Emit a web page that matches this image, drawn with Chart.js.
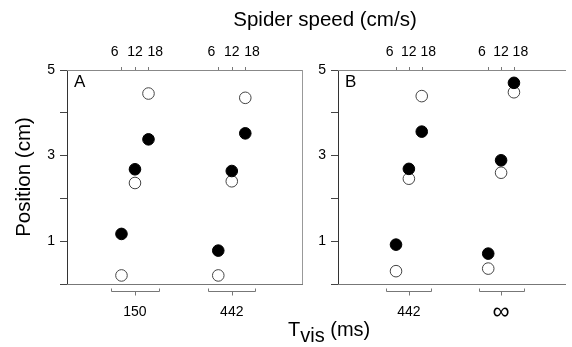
<!DOCTYPE html>
<html><head><meta charset="utf-8">
<script src="https://cdn.jsdelivr.net/npm/chart.js@4.4.0/dist/chart.umd.min.js"></script>
<style>
html,body{margin:0;padding:0;background:#fff;}
#wrap{position:relative;width:572px;height:347px;overflow:hidden;font-family:"Liberation Sans",Arial,sans-serif;color:#000;}
canvas{position:absolute;top:0;}
#cA{left:0;width:320px;height:347px;}
#cB{left:290px;width:282px;height:347px;}
.t{position:absolute;white-space:nowrap;}
#ttop{left:175px;width:300px;top:9px;text-align:center;font-size:20.5px;line-height:20.5px;}
#tbot{left:288px;top:319px;font-size:20px;line-height:20px;}
#tbot span{position:relative;top:6px;}
</style></head><body>
<div id="wrap">
<canvas id="cA" width="320" height="347"></canvas>
<canvas id="cB" width="282" height="347"></canvas>
<div class="t" id="ttop">Spider speed (cm/s)</div>
<div class="t" id="tbot">T<span>vis</span> (ms)</div>
</div>
<script>
// ---- data ----
const speeds = [6, 12, 18];            // cm/s, top axis
const tvisA = ["150", "442"];          // bottom axis groups, panel A
const tvisB = ["442", "∞"];            // bottom axis groups, panel B
const yTickLabels = [1, 3, 5];
const filledA150 = [1.17, 2.68, 3.38];
const openA150   = [0.20, 2.36, 4.45];
const filledA442 = [0.78, 2.64, 3.52];
const openA442   = [0.20, 2.40, 4.35];
const filledB442 = [0.92, 2.69, 3.56];
const openB442   = [0.30, 2.46, 4.39];
const filledBInf = [0.71, 2.89, 4.70];
const openBInf   = [0.36, 2.60, 4.48];

// ---- layout ----
const G = 43;        // spacing between groups, in speed units
const SPREAD = 1.5;  // top tick labels are spread wider than their tick marks
const FONT = '"Liberation Sans", Arial, sans-serif';
function pts(g, arr){ return speeds.map((s,i)=>({x:g*G+s, y:arr[i]})); }

const panelPlugin = {
  id:'panel',
  afterDraw(chart, args, opts){
    const ctx = chart.ctx, a = chart.chartArea, xs = chart.scales.x;
    ctx.save();
    // panel letter
    ctx.fillStyle = '#000';
    ctx.font = '17px ' + FONT;
    ctx.textBaseline = 'top';
    ctx.textAlign = 'left';
    ctx.fillText(opts.letter, a.left + 7, a.top + 4);
    // right frame
    if (opts.rightBorder){
      ctx.strokeStyle = '#999'; ctx.lineWidth = 1;
      ctx.beginPath(); ctx.moveTo(Math.round(a.right)+0.5, a.top); ctx.lineTo(Math.round(a.right)+0.5, a.bottom); ctx.stroke();
    }
    ctx.strokeStyle = '#777'; ctx.lineWidth = 1;
    // top-axis tick marks at the speeds of each group
    const yt = Math.round(a.top);
    ctx.beginPath();
    opts.groups.forEach((_, g) => speeds.forEach(s => {
      const x = Math.round(xs.getPixelForValue(g*G + s)) + 0.5;
      ctx.moveTo(x, yt - 3); ctx.lineTo(x, yt);
    }));
    ctx.stroke();
    // brackets under each group
    const y = Math.round(a.bottom) + 7.5;
    opts.groups.forEach((_, g) => {
      const c = g*G + speeds[1];
      const x0 = Math.round(xs.getPixelForValue(c - 10.5)) + 0.5;
      const x1 = Math.round(xs.getPixelForValue(c + 10.5)) + 0.5;
      const xc = Math.round(xs.getPixelForValue(c)) + 0.5;
      ctx.beginPath();
      ctx.moveTo(x0, y - 3); ctx.lineTo(x0, y); ctx.lineTo(x1, y); ctx.lineTo(x1, y - 3);
      ctx.moveTo(xc, y); ctx.lineTo(xc, y + 4);
      ctx.stroke();
    });
    ctx.restore();
  }
};

function makeChart(id, groups, filled, open, xmin, xmax, yWidth, letter, withTitle, rightBorder, rightPad){
  return new Chart(document.getElementById(id), {
    type: 'scatter',
    data: { datasets: [
      { label:'filled', data: filled, pointRadius:5.8, pointHoverRadius:5.8,
        backgroundColor:'#000', borderColor:'#000', borderWidth:1 },
      { label:'open', data: open, pointRadius:5.8, pointHoverRadius:5.8,
        backgroundColor:'#fff', borderColor:'#444', borderWidth:1 }
    ]},
    options: {
      responsive:false, animation:false, devicePixelRatio:1,
      layout:{padding:{left:0,right:rightPad,top:0,bottom:0}},
      plugins:{ legend:{display:false}, tooltip:{enabled:false},
        panel:{letter, groups, rightBorder} },
      scales:{
        y:{ type:'linear', position:'left', min:0, max:5,
          ticks:{ stepSize:1, padding:5, color:'#000', font:{family:FONT,size:14},
            callback:(v)=> yTickLabels.includes(v) ? String(v) : '' },
          grid:{ drawOnChartArea:false, tickLength:7, color:'#444' },
          border:{ color:'#333', width:1 },
          title:{ display:withTitle, text:'Position (cm)', color:'#000',
            font:{family:FONT,size:20.5}, padding:{top:12,bottom:0} },
          afterFit:(s)=>{ s.width = yWidth; }
        },
        x:{ type:'linear', position:'bottom', min:xmin, max:xmax,
          afterBuildTicks:(s)=>{ s.ticks = groups.map((_,g)=>({value:g*G+speeds[1]})); },
          ticks:{ padding:20, color:'#000', maxRotation:0, autoSkip:false,
            font:(c)=> (groups[c.index]==='∞') ? {family:FONT,size:24,lineHeight:0.7} : {family:FONT,size:14},
            callback:(v,i)=> groups[i] },
          grid:{ display:false, drawTicks:false },
          border:{ color:'#777', width:1 },
          afterFit:(s)=>{ s.height = 63; }
        },
        x2:{ type:'linear', position:'top', min:xmin, max:xmax,
          afterBuildTicks:(s)=>{ const t=[]; groups.forEach((_,g)=>speeds.forEach(sp=>t.push({value:g*G+speeds[1]+(sp-speeds[1])*SPREAD}))); s.ticks=t; },
          ticks:{ padding:9, color:'#000', maxRotation:0, autoSkip:false, font:{family:FONT,size:14},
            callback:(v,i)=> String(speeds[i % speeds.length]) },
          grid:{ display:false, drawTicks:false },
          border:{ color:'#888', width:1 },
          afterFit:(s)=>{ s.height = 70; }
        }
      }
    },
    plugins:[panelPlugin]
  });
}

makeChart('cA', tvisA,
  [...pts(0, filledA150), ...pts(1, filledA442)],
  [...pts(0, openA150), ...pts(1, openA442)],
  -18.2, 86.2, 67, 'A', true, true, 18);
makeChart('cB', tvisB,
  [...pts(0, filledB442), ...pts(1, filledBInf)],
  [...pts(0, openB442), ...pts(1, openBInf)],
  -21.05, 84.9, 48, 'B', false, false, 0);
</script>
</body></html>
